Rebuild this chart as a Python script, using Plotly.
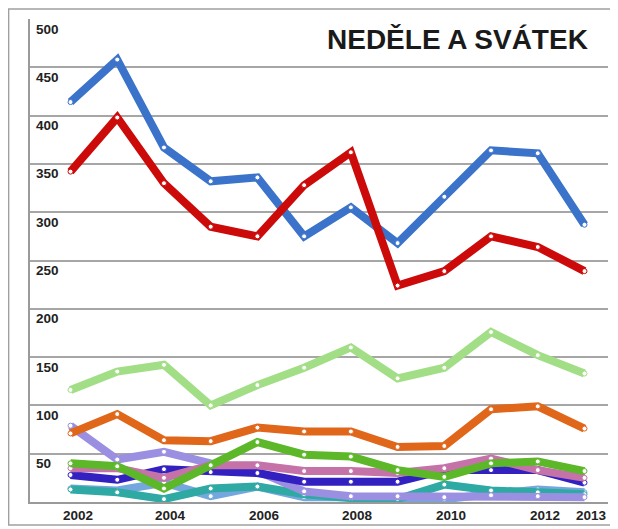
import plotly.graph_objects as go

years = list(range(2002, 2014))
x_tick_labels = ["2002", "2004", "2006", "2008", "2010", "2012", "2013"]
x_tick_vals = [2002, 2004, 2006, 2008, 2010, 2012, 2013]
y_tick_vals = [50, 100, 150, 200, 250, 300, 350, 400, 450, 500]
y_tick_labels = ["50", "100", "150", "200", "250", "300", "350", "400", "450", "500"]

blue = [414, 458, 367, 332, 336, 275, 305, 268, 316, 364, 361, 287]
red = [342, 398, 330, 285, 275, 328, 362, 224, 239, 275, 264, 239]
light_green = [116, 135, 142, 100, 121, 139, 160, 128, 139, 176, 152, 133]
orange = [71, 91, 64, 63, 77, 73, 73, 57, 58, 96, 99, 76]
green = [40, 37, 14, 38, 62, 49, 47, 33, 26, 40, 42, 32]
pink = [35, 35, 25, 38, 38, 32, 32, 30, 35, 45, 33, 25]
dark_blue = [28, 23, 34, 31, 30, 21, 21, 21, 33, 33, 33, 20]
lavender = [79, 44, 52, 40, 32, 11, 6, 6, 5, 7, 6, 5]
teal = [13, 10, 3, 14, 16, 8, 4, 3, 18, 12, 10, 8]
light_blue = [14, 12, 20, 6, 16, 5, 5, 5, 3, 8, 13, 10]

series = [
    ("light blue", light_blue, "#74A7DE"),
    ("teal", teal, "#2FA9A3"),
    ("lavender", lavender, "#9B8FE2"),
    ("dark blue", dark_blue, "#3320C0"),
    ("pink", pink, "#C472A8"),
    ("green", green, "#5CB828"),
    ("orange", orange, "#E0661A"),
    ("light green", light_green, "#A2DE86"),
    ("blue", blue, "#3A73C9"),
    ("red", red, "#CC0A0A"),
]

fig = go.Figure()
for name, vals, col in series:
    fig.add_trace(go.Scatter(
        x=years, y=vals, mode="lines+markers", name=name,
        line=dict(color=col, width=8),
        marker=dict(size=5, color="white", line=dict(color=col, width=1)),
        showlegend=False,
    ))

# the page body adds an 8px offset; the figure is sized to compensate
fig.update_layout(
    width=610, height=521,
    margin=dict(l=22, r=10, t=11, b=27),
    paper_bgcolor="white", plot_bgcolor="white",
    xaxis=dict(range=[2001.133, 2013.503], showgrid=False, zeroline=False,
               showline=True, linecolor="#9A9A9A", linewidth=1.5,
               tickvals=x_tick_vals, ticktext=x_tick_labels, ticks="",
               showticklabels=False),
    yaxis=dict(range=[0, 500], showgrid=True, gridcolor="#A6A6A6", gridwidth=1.5,
               tickvals=y_tick_vals[:-1], zeroline=False, showline=True,
               linecolor="#9A9A9A", linewidth=1.5, showticklabels=False, ticks=""),
    font=dict(family="Liberation Sans, Arial, sans-serif"),
)

for v, t in zip(y_tick_vals, y_tick_labels):
    fig.add_annotation(x=0, xref="paper", y=v, yref="y", text="<b>" + t + "</b>",
                       showarrow=False, xanchor="left", yanchor="middle",
                       xshift=4, yshift=-10, font=dict(size=13.5, color="#222222"))

for v, t in zip(x_tick_vals, x_tick_labels):
    fig.add_annotation(x=v, xref="x", y=0, yref="paper", text="<b>" + t + "</b>",
                       showarrow=False, xanchor="center", yanchor="middle",
                       xshift=7, yshift=-13, font=dict(size=13.5, color="#222222"))

fig.add_annotation(x=0.969, xref="paper", y=0.957, yref="paper",
                   text="<b>NEDĚLE A SVÁTEK</b>", showarrow=False,
                   xanchor="right", yanchor="middle",
                   font=dict(size=28, color="#1A1A1A"))

fig.add_shape(type="rect", xref="paper", yref="paper",
              x0=-0.037, x1=1.0104, y0=-0.0476, y1=1.0207,
              line=dict(color="#A0A0A0", width=1.5), fillcolor="rgba(0,0,0,0)")

fig.write_html("out.html")
